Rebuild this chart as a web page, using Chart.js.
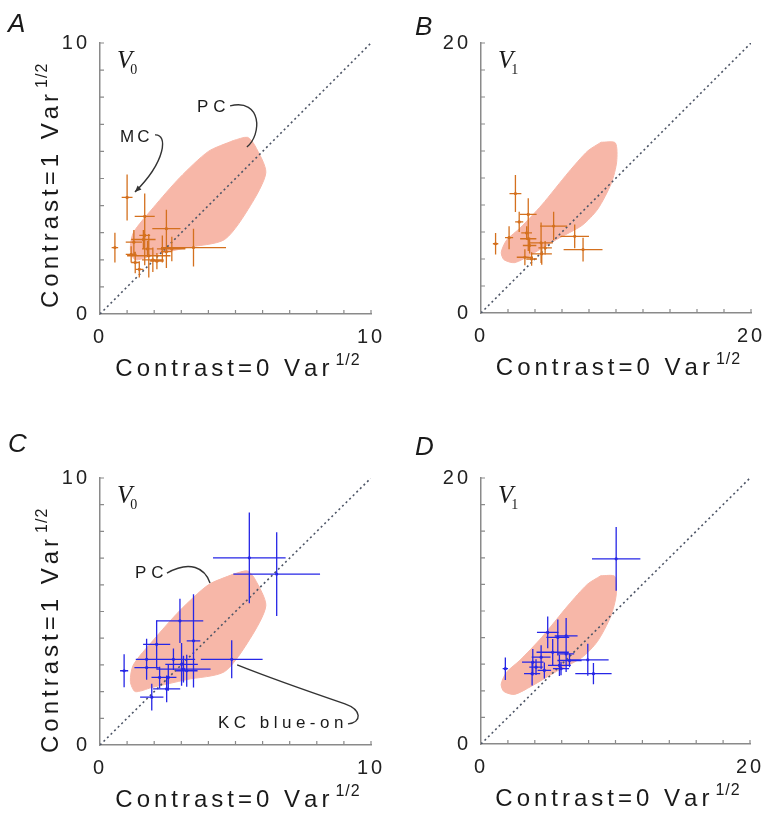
<!DOCTYPE html>
<html>
<head>
<meta charset="utf-8">
<title>Contrast variance scatter, V0 / V1</title>
<script src="https://cdn.jsdelivr.net/npm/chart.js@4.4.0/dist/chart.umd.min.js"></script>
<style>
  body { margin: 0; background: #fff; }
  #wrap { position: relative; width: 770px; height: 820px; }
  canvas { position: absolute; }
</style>
</head>
<body>
<div id="wrap">
  <canvas id="panelA" width="385" height="410" style="left:0;top:0"></canvas>
  <canvas id="panelB" width="385" height="410" style="left:385px;top:0"></canvas>
  <canvas id="panelC" width="385" height="410" style="left:0;top:410px"></canvas>
  <canvas id="panelD" width="385" height="410" style="left:385px;top:410px"></canvas>
</div>
<script>
// A: MC cells, V0
const aX = [1.0, 0.55, 1.65, 2.45, 2.45, 3.45, 2.65, 1.25, 1.6, 1.8, 1.3, 1.95, 1.65, 1.45, 1.15, 2.1, 1.75, 2.3];
const aY = [4.3, 2.45, 3.6, 3.15, 2.3, 2.45, 2.4, 2.65, 2.75, 2.15, 1.9, 2.0, 2.9, 1.65, 2.2, 1.95, 2.4, 2.4];
const aXErr = [0.2, 0.12, 0.37, 0.52, 0.2, 1.2, 0.5, 0.3, 0.45, 0.8, 0.15, 0.4, 0.2, 0.15, 0.2, 0.25, 0.2, 0.2];
const aYErr = [0.85, 0.55, 0.85, 0.7, 0.6, 0.7, 0.45, 0.45, 0.35, 0.8, 0.4, 0.45, 1.1, 0.3, 0.3, 0.3, 0.3, 0.5];

// B: MC cells, V1
const bX = [1.08, 2.08, 2.55, 2.83, 3.5, 3.5, 3.6, 4.45, 5.38, 6.94, 7.56, 3.25, 4.5, 4.75, 3.75, 3.38];
const bY = [5.13, 5.58, 8.85, 6.75, 7.3, 5.5, 5.0, 5.2, 6.44, 5.68, 4.7, 4.13, 4.38, 4.83, 4.0, 5.93];
const bXErr = [0.2, 0.3, 0.44, 0.3, 0.62, 0.6, 0.5, 0.87, 1.0, 1.06, 1.44, 0.6, 0.75, 0.5, 0.4, 0.4];
const bYErr = [0.8, 0.85, 1.37, 0.75, 1.2, 0.9, 0.6, 1.5, 1.06, 0.88, 0.88, 0.6, 0.8, 0.5, 0.5, 0.5];

// C: KC blue-on, V0
const cX = [0.89, 5.51, 6.52, 4.86, 2.95, 3.45, 1.91, 2.46, 1.72, 2.09, 1.72, 3.01, 3.08, 2.52, 2.71, 3.2, 2.2];
const cY = [2.78, 7.01, 6.40, 3.21, 4.65, 3.9, 1.79, 2.1, 3.21, 3.77, 2.9, 3.02, 2.84, 2.53, 3.21, 2.78, 2.53];
const cXErr = [0.15, 1.34, 1.6, 1.14, 0.86, 0.25, 0.43, 0.5, 0.4, 0.5, 0.45, 0.6, 1.0, 0.3, 0.8, 0.4, 0.3];
const cYErr = [0.62, 1.7, 1.57, 0.71, 0.83, 1.75, 0.5, 0.5, 0.77, 0.9, 0.4, 0.8, 0.5, 0.5, 0.4, 0.6, 0.4];

// D: KC blue-on, V1
const dX = [1.81, 10.05, 4.96, 5.71, 6.33, 7.94, 8.36, 5.33, 6.33, 6.58, 5.83, 4.47, 3.85, 3.80, 4.71, 4.09, 5.95];
const dY = [5.66, 13.92, 8.39, 8.01, 8.13, 6.33, 5.29, 6.9, 6.77, 6.28, 5.91, 6.53, 6.15, 5.29, 5.53, 5.78, 5.66];
const dXErr = [0.2, 1.8, 0.8, 0.85, 0.85, 1.55, 1.35, 1.2, 0.6, 0.9, 0.85, 0.7, 0.8, 0.6, 0.5, 0.5, 0.6];
const dYErr = [0.85, 2.4, 1.2, 1.35, 1.35, 1.2, 0.8, 1.0, 1.35, 0.5, 0.8, 0.9, 1.0, 0.9, 0.6, 0.6, 0.5];

// PC population outline (shaded area)
const pcV0X = [4.92, 5.44, 5.72, 6.12, 5.55, 4.6, 3.2, 1.9, 1.3, 1.12, 1.23, 1.97, 2.95, 4.0];
const pcV0Y = [6.40, 6.52, 6.21, 5.22, 4.0, 2.75, 2.45, 2.15, 2.0, 2.38, 3.0, 3.93, 5.04, 6.0];
const pcV1X = [8.9, 9.95, 10.05, 9.65, 8.65, 7.5, 5.6, 3.75, 2.5, 1.7, 1.5, 1.9, 2.9, 4.5, 6.5, 7.9];
const pcV1Y = [12.65, 12.6, 11.2, 9.6, 7.7, 6.5, 5.45, 4.35, 3.73, 3.95, 4.5, 5.4, 6.3, 8.0, 10.45, 12.0];

const FONT = '"Liberation Sans", Arial, sans-serif';
const PINK = 'rgb(247,183,168)';
const ORANGE = 'rgb(212,112,30)';
const BLUE = 'rgb(38,38,230)';
const AXIS = '#8a8a8a';

function pts(xs, ys) { return xs.map((x, i) => ({ x: x, y: ys[i] })); }
function closed(xs, ys) { const p = pts(xs, ys); p.push(p[0]); return p; }
function hBars(xs, ys, xe) {
    return xs.flatMap((x, i) => [{ x: x - xe[i], y: ys[i] }, { x: x + xe[i], y: ys[i] }, { x: x, y: null }]);
}
function vBars(xs, ys, ye) {
    return xs.flatMap((x, i) => [{ x: x, y: ys[i] - ye[i] }, { x: x, y: ys[i] + ye[i] }, { x: x, y: null }]);
}

// letter-spaced text, char by char
function spaced(ctx, s, x, y, sp) {
    for (const ch of s) { ctx.fillText(ch, x, y); x += ctx.measureText(ch).width + sp; }
    return x - sp;
}
function spacedWidth(ctx, s, sp) {
    let w = 0;
    for (const ch of s) w += ctx.measureText(ch).width + sp;
    return w - sp;
}
function titleWidth(ctx, main, sup) {
    ctx.font = '24px ' + FONT;
    const w = spacedWidth(ctx, main, 4);
    ctx.font = '16px ' + FONT;
    return w + 6 + spacedWidth(ctx, sup, 1);
}
function drawTitle(ctx, main, sup, x, y) {
    ctx.font = '24px ' + FONT;
    const end = spaced(ctx, main, x, y, 4);
    ctx.font = '16px ' + FONT;
    spaced(ctx, sup, end + 6, y - 11, 1);
}

const decor = {
    id: 'decor',
    beforeDraw(chart) {
        // wide tracking for the tick numbers, like the original figure
        chart.ctx.letterSpacing = '3px';
    },
    afterDraw(chart, args, o) {
        const ctx = chart.ctx, sx = chart.scales.x, sy = chart.scales.y, a = chart.chartArea;
        ctx.letterSpacing = '0px';
        ctx.save();
        // small inward ticks
        ctx.strokeStyle = AXIS;
        ctx.lineWidth = 1.2;
        ctx.beginPath();
        sx.ticks.forEach(t => {
            if (t.value === 0) return;
            const px = sx.getPixelForValue(t.value);
            ctx.moveTo(px, a.bottom); ctx.lineTo(px, a.bottom - 4);
        });
        sy.ticks.forEach(t => {
            if (t.value === 0) return;
            const py = sy.getPixelForValue(t.value);
            ctx.moveTo(a.left, py); ctx.lineTo(a.left + 4, py);
        });
        ctx.stroke();

        ctx.fillStyle = '#1a1a1a';
        ctx.textAlign = 'left';
        ctx.textBaseline = 'alphabetic';

        // panel letter
        ctx.font = 'italic 26px ' + FONT;
        ctx.fillText(o.letter, o.lx, o.ly);

        // V0 / V1
        ctx.font = 'italic 25px "Liberation Serif", serif';
        ctx.fillText('V', a.left + 17, a.top + 25);
        const vw = ctx.measureText('V').width;
        ctx.font = '14px "Liberation Serif", serif';
        ctx.fillText(o.sub, a.left + 15 + vw, a.top + 31);

        // x title
        const tw = titleWidth(ctx, 'Contrast=0 Var', '1/2');
        drawTitle(ctx, 'Contrast=0 Var', '1/2', (a.left + a.right) / 2 - tw / 2 + 2, a.bottom + 62);

        // y title
        if (o.yTitle) {
            ctx.save();
            ctx.translate(58, a.bottom + o.yStart);
            ctx.rotate(-Math.PI / 2);
            drawTitle(ctx, 'Contrast=1 Var', '1/2', 0, 0);
            ctx.restore();
        }

        // annotations
        ctx.font = '17px ' + FONT;
        (o.notes || []).forEach(n => {
            spaced(ctx, n.text, sx.getPixelForValue(n.x), sy.getPixelForValue(n.y), n.sp);
        });
        ctx.strokeStyle = '#333';
        ctx.lineWidth = 1.4;
        (o.curves || []).forEach(c => {
            const p = c.pts.map(q => [sx.getPixelForValue(q[0]), sy.getPixelForValue(q[1])]);
            ctx.beginPath();
            ctx.moveTo(p[0][0], p[0][1]);
            for (let i = 1; i + 2 < p.length; i += 3) {
                ctx.bezierCurveTo(p[i][0], p[i][1], p[i + 1][0], p[i + 1][1], p[i + 2][0], p[i + 2][1]);
            }
            ctx.stroke();
            if (c.arrow) {
                const e = p[p.length - 1], b = p[p.length - 2];
                const ang = Math.atan2(e[1] - b[1], e[0] - b[0]);
                ctx.beginPath();
                ctx.moveTo(e[0], e[1]);
                ctx.lineTo(e[0] - 7 * Math.cos(ang - 0.4), e[1] - 7 * Math.sin(ang - 0.4));
                ctx.lineTo(e[0] - 7 * Math.cos(ang + 0.4), e[1] - 7 * Math.sin(ang + 0.4));
                ctx.closePath();
                ctx.fillStyle = '#333';
                ctx.fill();
            }
        });
        ctx.restore();
    }
};

function axis(p, isX) {
    return {
        type: 'linear',
        min: 0,
        max: p.max,
        grid: { display: false, drawTicks: false },
        border: { display: true, color: AXIS, width: 1.5 },
        ticks: {
            stepSize: p.step,
            autoSkip: false,
            maxRotation: 0,
            padding: isX ? 11 : 10,
            color: '#222',
            font: { family: FONT, size: 20 },
            callback: v => (v === 0 || v === p.max) ? String(v) : ''
        },
        afterFit: s => {
            // fixed plot box: ignore label overhang padding
            s.paddingLeft = 0; s.paddingRight = 0; s.paddingTop = 0; s.paddingBottom = 0;
            if (isX) s.height = p.xh; else s.width = p.yw;
        }
    };
}

function makePanel(p) {
    return new Chart(document.getElementById(p.canvas), {
        type: 'scatter',
        data: {
            datasets: [
                {
                    type: 'line', data: closed(p.regX, p.regY), fill: 'shape',
                    backgroundColor: PINK, borderColor: PINK, borderWidth: 1,
                    tension: 0.25, pointRadius: 0, order: 4
                },
                {
                    type: 'line', data: [{ x: 0, y: 0 }, { x: p.max, y: p.max }],
                    borderColor: '#4d5566', borderWidth: 1.6, borderDash: [2, 3],
                    pointRadius: 0, fill: false, order: 3
                },
                {
                    type: 'line', data: hBars(p.xs, p.ys, p.xe), borderColor: p.color,
                    borderWidth: 1.3, pointRadius: 0, fill: false, spanGaps: false, order: 2
                },
                {
                    type: 'line', data: vBars(p.xs, p.ys, p.ye), borderColor: p.color,
                    borderWidth: 1.3, pointRadius: 0, fill: false, spanGaps: false, order: 2
                },
                {
                    data: pts(p.xs, p.ys), pointRadius: 1.6, backgroundColor: p.color,
                    borderWidth: 0, order: 1
                }
            ]
        },
        options: {
            responsive: false,
            animation: false,
            events: [],
            layout: { padding: { top: p.top, right: p.right, left: 0, bottom: 0 } },
            plugins: {
                legend: { display: false },
                tooltip: { enabled: false },
                decor: p.decor
            },
            scales: { x: axis(p, true), y: axis(p, false) }
        },
        plugins: [decor]
    });
}

makePanel({
    canvas: 'panelA', xs: aX, ys: aY, xe: aXErr, ye: aYErr, regX: pcV0X, regY: pcV0Y,
    max: 10, step: 1, color: ORANGE, top: 43, right: 14, yw: 100, xh: 96,
    decor: {
        letter: 'A', lx: 8, ly: 32, sub: '0', yTitle: true, yStart: -6,
        notes: [{ text: 'MC', x: 0.74, y: 6.35, sp: 3 }, { text: 'PC', x: 3.58, y: 7.45, sp: 5 }],
        curves: [
            { pts: [[2.03, 6.61], [2.51, 6.64], [2.44, 5.65], [1.29, 4.50]], arrow: true },
            { pts: [[4.80, 7.68], [5.98, 7.97], [5.98, 6.61], [5.42, 6.16]] }
        ]
    }
});

makePanel({
    canvas: 'panelB', xs: bX, ys: bY, xe: bXErr, ye: bYErr, regX: pcV1X, regY: pcV1Y,
    max: 20, step: 2, color: ORANGE, top: 43, right: 19, yw: 96, xh: 97,
    decor: { letter: 'B', lx: 30, ly: 35, sub: '1', yTitle: false }
});

makePanel({
    canvas: 'panelC', xs: cX, ys: cY, xe: cXErr, ye: cYErr, regX: pcV0X, regY: pcV0Y,
    max: 10, step: 1, color: BLUE, top: 68, right: 14, yw: 100, xh: 75,
    decor: {
        letter: 'C', lx: 8, ly: 42, sub: '0', yTitle: true, yStart: 8,
        notes: [{ text: 'PC', x: 1.29, y: 6.25, sp: 5 }, { text: 'KC blue-on', x: 4.35, y: 0.64, sp: 4.5 }],
        curves: [
            { pts: [[2.47, 6.44], [3.32, 6.93], [3.87, 6.63], [4.06, 6.07]] },
            { pts: [[9.15, 0.79], [9.67, 0.86], [9.67, 1.31], [9.04, 1.54], [8.0, 1.9], [6.3, 2.5], [5.06, 3.0]] }
        ]
    }
});

makePanel({
    canvas: 'panelD', xs: dX, ys: dY, xe: dXErr, ye: dYErr, regX: pcV1X, regY: pcV1Y,
    max: 20, step: 2, color: BLUE, top: 68, right: 20, yw: 96, xh: 76,
    decor: { letter: 'D', lx: 30, ly: 45, sub: '1', yTitle: false }
});
</script>
</body>
</html>
